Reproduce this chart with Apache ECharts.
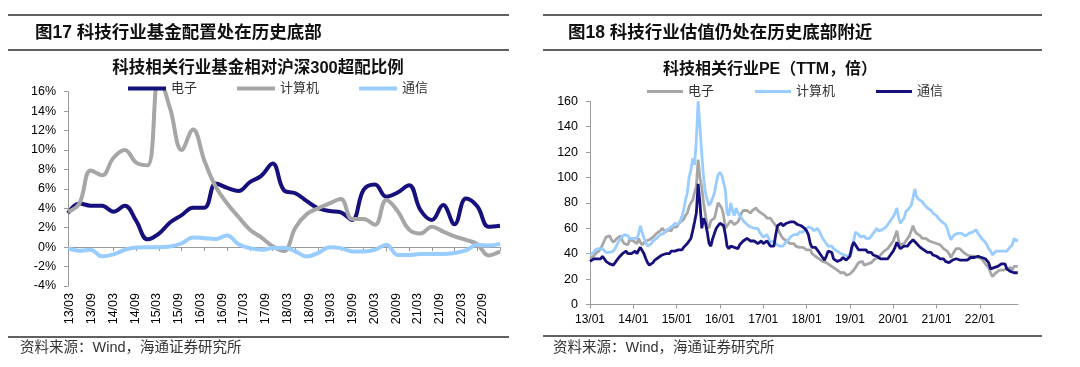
<!DOCTYPE html>
<html><head><meta charset="utf-8">
<script src="https://cdn.jsdelivr.net/npm/echarts@6/dist/echarts.min.js"></script>
<style>html,body{margin:0;padding:0;background:#fff}#c{width:1080px;height:367px}</style>
</head><body><div id="c"></div>
<script>
// ---------- Left chart: fund over-weight vs CSI300 (%), quarterly ----------
const quarters = ['13/03','13/06','13/09','13/12','14/03','14/06','14/09','14/12','15/03','15/06','15/09','15/12',
  '16/03','16/06','16/09','16/12','17/03','17/06','17/09','17/12','18/03','18/06','18/09','18/12',
  '19/03','19/06','19/09','19/12','20/03','20/06','20/09','20/12','21/03','21/06','21/09','21/12',
  '22/03','22/06','22/09'];
const halfYearLabels = ['13/03','13/09','14/03','14/09','15/03','15/09','16/03','16/09','17/03','17/09',
  '18/03','18/09','19/03','19/09','20/03','20/09','21/03','21/09','22/03','22/09'];
const fundElec = [3.5,4.5,4.27,4.27,3.65,4.27,2.7,0.8,1.4,2.56,3.3,4.06,4.06,6.55,6.1,5.77,6.7,7.34,8.6,5.85,
  5.55,4.74,4.0,3.72,3.58,2.8,5.9,6.45,5.19,5.63,6.38,3.82,2.8,4.33,2.35,5.0,4.2,2.1,2.2];
const fundComp = [3.65,4.5,7.9,7.4,9.2,10.0,8.7,8.43,17.5,14.2,10.0,12.1,8.9,6.2,4.5,3.1,1.8,1.0,0.1,-0.4,
  2.0,3.4,4.0,4.5,4.95,2.9,2.9,2.3,4.85,3.7,1.8,1.4,2.1,1.6,1.1,0.75,0.3,-0.85,-0.45];
const fundTel = [-0.1,-0.37,-0.27,-0.95,-0.75,-0.27,-0.03,0,0,0.07,0.4,1.0,0.92,0.85,1.2,0.3,-0.1,-0.27,-0.1,-0.05,
  -0.44,-0.96,-0.6,0.0,-0.1,-0.44,-0.44,-0.27,0.24,-0.8,-0.8,-0.7,-0.7,-0.7,-0.6,-0.34,0.24,0.17,0.34];

// ---------- Right chart: PE (TTM), semi-monthly (1st & 16th), 2013-01 .. 2022-11 ----------
const peElec = [
  36,37,38,40,39,42,44,47,50,53,52,54,51,49,48,52,53,54,50,48,49,47,51,50,
  50,50,48,52,49,47,48,50,49,51,50,53,54,56,55,58,60,59,57,59,60,58,61,62,
  61,63,65,64,67,70,72,77,80,82,88,93,114,100,92,80,70,62,60,66,65,68,74,80,
  78,76,70,60,62,64,66,65,63,64,65,68,72,74,73,74,73,72,74,75,76,74,73,72,
  71,70,68,67,68,66,64,63,60,57,54,52,51,50,49,48,47,48,46,47,45,44,45,44,
  43,42,43,40,39,38,37,36,35,34,35,33,32,31,30,29,28,27,26,25,24,25,23,23,
  24,25,27,29,31,33,32,34,31,30,32,31,33,34,36,35,37,39,40,42,41,44,46,48,
  50,54,58,50,47,46,48,50,51,54,58,62,58,56,55,54,52,53,52,51,50,50,49,48,
  48,47,47,46,44,43,42,40,37,38,42,44,43,44,43,41,40,39,39,38,37,38,37,37,
  37,36,34,32,31,29,25,22,23,25,26,27,28,27,27,28,29,29,27,30,31,30];
const peComp = [
  39,40,41,43,42,44,43,44,43,41,40,41,40,42,44,47,50,52,53,55,56,54,52,53,
  52,53,52,56,62,57,52,49,46,45,48,50,51,52,53,55,54,56,58,59,60,61,62,64,
  65,63,66,70,74,82,88,100,106,115,110,130,160,140,118,100,88,82,78,80,84,88,96,102,
  104,102,103,90,72,70,80,74,70,76,72,70,68,66,65,63,64,61,62,60,59,60,57,55,
  53,52,55,52,49,48,50,48,47,46,47,46,48,49,51,53,52,55,56,55,57,58,57,59,
  60,61,62,60,58,59,60,58,55,52,50,48,46,45,46,44,43,42,41,40,41,39,39,38,
  39,41,50,57,56,55,53,52,54,52,53,52,54,55,58,60,58,57,59,60,61,63,65,67,
  69,72,76,68,64,63,68,73,72,76,78,84,91,85,83,84,81,79,78,76,75,74,72,71,
  70,68,67,65,64,63,60,55,51,53,55,54,56,57,56,55,54,55,56,55,57,58,59,56,
  54,52,51,49,47,44,42,39,40,42,41,42,41,42,43,42,44,43,47,52,50,51];
const peTel = [
  34,35,36,35,36,37,36,38,36,34,34,32,33,31,33,35,37,38,40,41,42,40,41,40,
  41,42,40,43,45,44,40,36,33,31,30,33,35,36,37,38,39,38,40,41,40,42,41,42,
  42,43,44,43,45,46,48,50,52,58,65,72,95,80,60,68,64,57,48,46,52,56,60,62,
  64,63,62,55,46,44,46,47,45,46,44,47,48,50,51,52,51,50,49,50,49,48,49,50,
  48,49,50,48,46,47,46,55,62,63,64,62,63,64,63,65,66,65,64,63,64,62,61,60,
  58,55,48,45,44,45,43,41,39,37,35,38,42,43,41,36,35,34,34,35,37,36,35,36,
  38,45,49,47,45,43,44,43,42,43,41,40,41,39,40,38,37,36,37,36,35,36,38,40,
  42,45,49,46,44,45,46,47,46,48,49,51,52,48,47,45,44,43,42,41,40,41,39,39,
  38,37,36,35,36,34,34,33,34,35,34,36,37,35,36,35,34,35,36,37,36,37,38,38,
  38,37,38,36,35,33,28,27,29,30,30,31,32,33,32,28,27,26,26,25,26,25];
const yearTicks = [2013,2014,2015,2016,2017,2018,2019,2020,2021,2022];

// sample dates: 1st and 16th of each month
const peDates = [];
for (let y = 2013; y <= 2022; y++) {
  for (let m = 0; m < 12; m++) {
    if (y === 2022 && m > 10) break;
    for (const d of [1, 16]) {
      const t0 = Date.UTC(y, 0, 1), t1 = Date.UTC(y + 1, 0, 1);
      peDates.push(y + (Date.UTC(y, m, d) - t0) / (t1 - t0));
    }
  }
}
const pair = arr => arr.map((v, i) => [peDates[i], v]);

const NAVY = '#16107C', GREY = '#A6A6A6', LBLUE = '#99CCFF';
const AXIS = '#9A9A9A';
const LATIN = '"Liberation Sans", "Noto Sans CJK SC", sans-serif';
const CJK = '"Liberation Sans", "Noto Sans CJK SC", sans-serif';

const chart = echarts.init(document.getElementById('c'), null, {renderer: 'canvas'});

function txt(text, x, y, font, align, color) {
  return {type: 'text', silent: true, style: {text: text, x: x, y: y, font: font,
    textAlign: align || 'left', textVerticalAlign: 'middle', align: align || 'left', verticalAlign: 'middle', fill: color || '#000'}};
}
function rule(x1, y, x2) {
  return {type: 'line', silent: true, shape: {x1: x1, y1: y, x2: x2, y2: y}, style: {stroke: '#2b2b2b', lineWidth: 1.5}};
}

chart.setOption({
  animation: false,
  backgroundColor: '#fff',
  graphic: [
    rule(8, 15, 509), rule(8, 50, 509), rule(8, 337, 509),
    rule(543, 15, 1042), rule(543, 50, 1042), rule(543, 336, 1042),
    txt('图17 科技行业基金配置处在历史底部', 35, 33, 'bold 17.5px ' + CJK, 'left', '#111'),
    txt('图18 科技行业估值仍处在历史底部附近', 568, 33, 'bold 17.5px ' + CJK, 'left', '#111'),
    txt('科技相关行业基金相对沪深300超配比例', 258, 68, 'bold 16.5px ' + CJK, 'center', '#111'),
    txt('科技相关行业PE（TTM，倍）', 770, 70, 'bold 16px ' + CJK, 'center', '#111'),
    txt('资料来源：Wind，海通证券研究所', 20, 348, '14.5px ' + CJK, 'left', '#333'),
    txt('资料来源：Wind，海通证券研究所', 553, 348, '14.5px ' + CJK, 'left', '#333')
  ],
  legend: [
    {left: 123, top: 77, itemWidth: 38, itemHeight: 4, itemGap: 40, icon: 'rect', selectedMode: false,
     data: ['电子', '计算机', '通信'],
     textStyle: {fontSize: 13, color: '#333', fontFamily: CJK}},
    {left: 642, top: 80, itemWidth: 36, itemHeight: 3, itemGap: 41, icon: 'rect', selectedMode: false,
     data: ['PE电子', 'PE计算机', 'PE通信'], formatter: n => n.replace('PE', ''),
     textStyle: {fontSize: 13, color: '#333', fontFamily: CJK}}
  ],
  grid: [
    {left: 68, top: 91.7, width: 432, height: 194.3, containLabel: false},
    {left: 590, top: 101.3, width: 428, height: 203.2, containLabel: false},
    {left: 70, top: 91.7, width: 413, height: 194.3, containLabel: false}
  ],
  xAxis: [
    {type: 'category', gridIndex: 0, data: quarters, boundaryGap: false, position: 'bottom',
     axisLine: {show: true, onZero: true, lineStyle: {color: AXIS, width: 1}},
     axisTick: {show: true, interval: 1, length: 4, lineStyle: {color: AXIS}},
     axisLabel: {show: false}, splitLine: {show: false}},
    {type: 'category', gridIndex: 2, data: halfYearLabels, boundaryGap: false, position: 'bottom',
     axisLine: {show: false, onZero: false}, axisTick: {show: false},
     axisLabel: {show: true, interval: 0, rotate: 90, margin: 7, fontSize: 12.5, color: '#000', fontFamily: LATIN},
     splitLine: {show: false}},
    {type: 'value', gridIndex: 1, min: 2013, max: 2022.88, interval: 1,
     axisLine: {show: true, onZero: false, lineStyle: {color: AXIS, width: 1}},
     axisTick: {show: true, length: 4, lineStyle: {color: AXIS}, customValues: yearTicks},
     axisLabel: {show: true, margin: 9, fontSize: 12, color: '#000', fontFamily: LATIN, customValues: yearTicks,
       formatter: v => Math.abs(v - Math.round(v)) < 1e-6 ? String(Math.round(v)).slice(2) + '/01' : ''},
     splitLine: {show: false}}
  ],
  yAxis: [
    {type: 'value', gridIndex: 0, min: -4, max: 16, interval: 2,
     axisLine: {show: true, lineStyle: {color: AXIS, width: 1}},
     axisTick: {show: true, length: 4, lineStyle: {color: AXIS}},
     axisLabel: {margin: 12, fontSize: 12.5, color: '#000', fontFamily: LATIN, formatter: v => v + '%'},
     splitLine: {show: false}},
    {type: 'value', gridIndex: 1, min: 0, max: 160, interval: 20,
     axisLine: {show: true, lineStyle: {color: AXIS, width: 1}},
     axisTick: {show: true, length: 4, lineStyle: {color: AXIS}},
     axisLabel: {margin: 12, fontSize: 12.5, color: '#000', fontFamily: LATIN},
     splitLine: {show: false}},
    {type: 'value', gridIndex: 2, min: 0, max: 1, show: false}
  ],
  series: [
    {name: '电子', type: 'line', xAxisIndex: 0, yAxisIndex: 0, data: fundElec, smooth: 0.4, symbol: 'none',
     lineStyle: {width: 4, color: NAVY}, itemStyle: {color: NAVY}},
    {name: '计算机', type: 'line', xAxisIndex: 0, yAxisIndex: 0, data: fundComp, smooth: 0.4, symbol: 'none',
     lineStyle: {width: 4, color: GREY}, itemStyle: {color: GREY}},
    {name: '通信', type: 'line', xAxisIndex: 0, yAxisIndex: 0, data: fundTel, smooth: 0.4, symbol: 'none',
     lineStyle: {width: 4, color: LBLUE}, itemStyle: {color: LBLUE}},
    {name: 'PE电子', type: 'line', xAxisIndex: 2, yAxisIndex: 1, data: pair(peElec), symbol: 'none',
     lineStyle: {width: 2.8, color: GREY}, itemStyle: {color: GREY}},
    {name: 'PE计算机', type: 'line', xAxisIndex: 2, yAxisIndex: 1, data: pair(peComp), symbol: 'none',
     lineStyle: {width: 2.8, color: LBLUE}, itemStyle: {color: LBLUE}},
    {name: 'PE通信', type: 'line', xAxisIndex: 2, yAxisIndex: 1, data: pair(peTel), symbol: 'none',
     lineStyle: {width: 2.8, color: NAVY}, itemStyle: {color: NAVY}}
  ]
});
</script>
</body></html>
